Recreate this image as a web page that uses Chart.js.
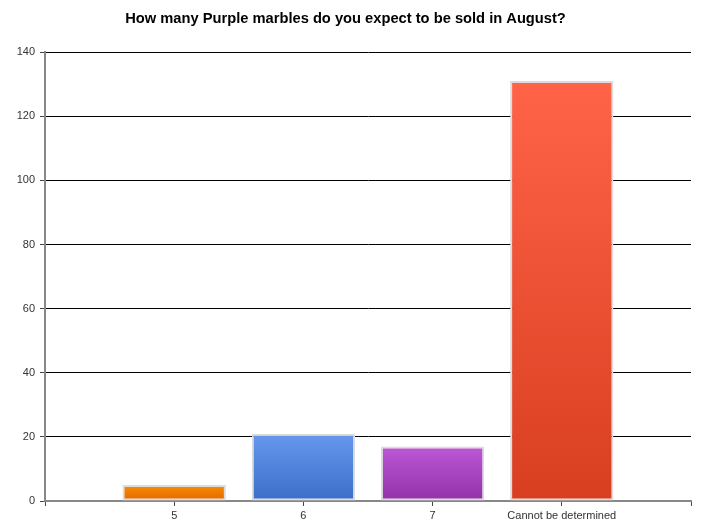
<!DOCTYPE html>
<html>
<head>
<meta charset="utf-8">
<script src="https://cdn.jsdelivr.net/npm/chart.js@4/dist/chart.umd.min.js"></script>
<style>
  html, body { margin: 0; padding: 0; background: #fff; }
  #wrap { width: 703px; height: 523px; }
</style>
</head>
<body>
<div id="wrap"><canvas id="c" width="703" height="523"></canvas></div>
<script>
// Answers and how many responses each got
const categories = ['5', '6', '7', 'Cannot be determined'];
const responses = [5, 21, 17, 131];
const yTicks = [0, 20, 40, 60, 80, 100, 120, 140];
const chartTitle = 'How many Purple marbles do you expect to be sold in August?';

// Top / bottom gradient stops for each bar
const gradTop = ['#fa8c00', '#6798ee', '#bd57d6', '#ff6448'];
const gradBottom = ['#e06800', '#3c6ec9', '#9231a8', '#d83e20'];

// Empty slots at both ends keep the bars centred on interior ticks
const labels = [''].concat(categories, ['']);
const values = [null].concat(responses, [null]);

function barFill(ctx) {
  const i = ctx.dataIndex - 1;
  if (i < 0 || i >= categories.length) return 'transparent';
  const chart = ctx.chart;
  const y = chart.scales.y;
  if (!y) return gradTop[i];
  const top = y.getPixelForValue(responses[i]);
  const base = y.getPixelForValue(0);
  const g = chart.ctx.createLinearGradient(0, top, 0, base);
  g.addColorStop(0, gradTop[i]);
  g.addColorStop(1, gradBottom[i]);
  return g;
}

new Chart(document.getElementById('c'), {
  type: 'bar',
  data: {
    labels: labels,
    datasets: [{
      data: values,
      backgroundColor: barFill,
      borderColor: '#dcdcdc',
      borderWidth: 2,
      borderSkipped: false,
      barPercentage: 1,
      categoryPercentage: 0.8
    }]
  },
  options: {
    responsive: false,
    animation: false,
    layout: { padding: { left: 0, right: 12, top: 0, bottom: 0 } },
    plugins: {
      legend: { display: false },
      tooltip: { enabled: false },
      title: {
        display: true,
        text: chartTitle,
        color: '#000',
        font: { family: 'Liberation Sans, Arial, sans-serif', size: 14.7, weight: 'bold' },
        padding: { top: 10, bottom: 24.5 }
      }
    },
    scales: {
      x: {
        offset: false,
        grid: {
          offset: false,
          drawOnChartArea: false,
          drawTicks: true,
          tickLength: 5,
          tickColor: '#444'
        },
        border: { color: '#888', width: 2 },
        ticks: {
          color: '#333',
          padding: 3,
          maxRotation: 0,
          autoSkip: false,
          font: { family: 'Liberation Sans, Arial, sans-serif', size: 11 }
        },
        afterFit: function (s) { s.height = 22; }
      },
      y: {
        min: 0,
        max: 140,
        afterBuildTicks: function (s) { s.ticks = yTicks.map(v => ({ value: v })); },
        grid: {
          color: '#000',
          lineWidth: 1,
          drawTicks: true,
          tickLength: 5,
          tickColor: '#444'
        },
        border: { color: '#888', width: 2 },
        ticks: {
          color: '#333',
          padding: 5,
          font: { family: 'Liberation Sans, Arial, sans-serif', size: 11 }
        },
        afterFit: function (s) { s.width = 45; }
      }
    }
  }
});
</script>
</body>
</html>
